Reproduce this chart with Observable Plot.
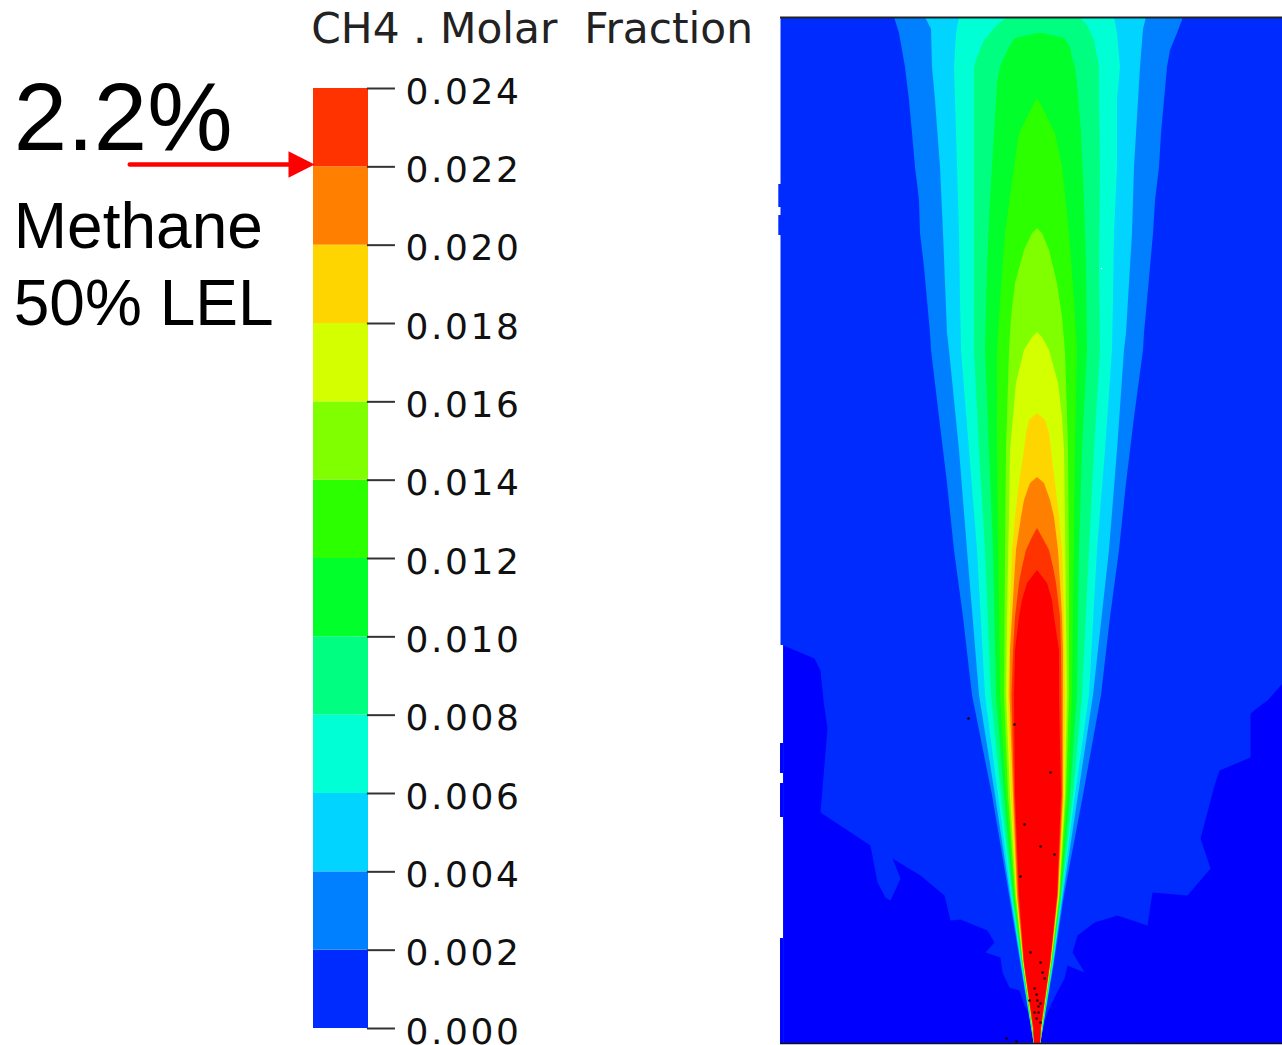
<!DOCTYPE html>
<html><head><meta charset="utf-8">
<script src="https://cdn.jsdelivr.net/npm/d3@7"></script>
<script src="https://cdn.jsdelivr.net/npm/@observablehq/plot@0.6"></script>
<style>
html,body{margin:0;padding:0;background:#fff}
#page{position:relative;width:1282px;height:1045px;overflow:hidden}
#page svg{position:absolute;top:0;overflow:visible;background:transparent}
g[aria-label="y-axis tick label"] text{letter-spacing:2.6px}
</style></head><body><div id="page"></div>
<script>
// Legend classes (molar fraction)
const tickValues = [0,0.002,0.004,0.006,0.008,0.010,0.012,0.014,0.016,0.018,0.020,0.022,0.024];
const classColors = ["#002bff","#0080ff","#00d4ff","#00ffd5","#00ff80","#00ff2b","#2bff00","#80ff00","#d4ff00","#ffd500","#ff7f00","#ff3300"];
const aboveColor = "#ff0000";
const belowColor = "#0000ff";
const title = "CH4 . Molar\u00a0\u00a0Fraction";

// Contour rows: [distance from source, left offset, right offset]
const c002 = [[1026,-143,146],[1010,-138,140],[993,-135,133],[976,-132,130],[943,-128,127],[910,-125,124],[876,-122,122],[843,-118,118],[810,-117,116],[776,-113,113],[743,-110,110],[710,-107,107],[693,-106,106],[626,-98,97],[560,-90,89],[493,-83,82],[426,-74,73],[348,-65,64],[248,-45,46],[148,-28,27],[81,-17,17],[15,-6,6],[0,-3.5,3.5]];
const c004 = [[1026,-112,109],[1014,-106,106],[976,-105,103],[943,-102,101],[876,-97,97],[810,-94,95],[710,-90,89],[693,-88,87],[593,-78,80],[493,-70,72],[348,-58,56],[248,-42,41],[148,-27,26],[81,-16.5,16.5],[15,-5.8,5.8],[0,-3.4,3.4]];
const c006 = [[1026,-78,77],[1010,-81,80],[976,-83,83],[943,-82,80],[876,-80,80],[810,-78,77],[743,-77,76],[693,-76,75],[593,-68,68],[493,-60,60],[348,-52,52],[248,-39,38],[148,-26,25],[81,-16,16],[15,-5.6,5.6],[0,-3.3,3.3]];
const c008 = [[1026,-30,42],[1018,-40,50],[1003,-53,57],[986,-60,60],[976,-63,62],[943,-63,62],[876,-63,63],[776,-63,62],[693,-63,63],[593,-58,57],[493,-52,52],[348,-46,45],[248,-36,36],[148,-25,24.5],[81,-15.5,15.5],[15,-5.4,5.4],[0,-3.2,3.2]];
const c010 = [[1010,0,5],[1005,-22,27],[996,-28,33],[986,-33,35],[976,-37,38],[960,-40,40],[910,-43,44],[843,-47,47],[776,-50,49],[693,-52,50],[593,-48,45],[493,-44,42],[348,-41,40],[248,-33,33],[148,-24,24],[81,-15,15],[15,-5.2,5.2],[0,-3.1,3.1]];
const c012 = [[945,0,0],[936,-5,5],[910,-18,18],[876,-23,25],[810,-32,32],[743,-37,37],[693,-40,40],[593,-40,38],[348,-37,35],[248,-31,31],[148,-23,23],[81,-14.5,14.5],[15,-5,5],[0,-3,3]];
const c014 = [[815,0,0],[810,-5,5],[793,-13,12],[760,-22,20],[726,-26,25],[693,-28,28],[593,-31,31],[493,-32,32],[348,-33,32],[248,-29,29],[148,-22,22.5],[81,-14.2,14.2],[15,-4.8,4.8],[0,-3,3]];
const c016 = [[711,0,0],[706,-5,5],[693,-13,12],[660,-21,21],[626,-24,25],[593,-27,27],[526,-28,28],[426,-30,29],[348,-31,30],[248,-27,28],[148,-21,22],[81,-14,14],[15,-4.6,4.6],[0,-3,3]];
const c018 = [[630,0,0],[623,-8,8],[610,-11,12],[593,-13,14],[560,-18,18],[526,-22,22],[493,-25,25],[426,-27,27],[348,-29,28],[248,-26,27],[148,-20.5,21.5],[81,-13.8,13.8],[15,-4.4,4.4],[0,-3,3]];
const c020 = [[566,0,0],[560,-7,7],[543,-13,13],[526,-16,17],[493,-21,21],[460,-23,23],[426,-25,25],[393,-27,26],[348,-27.5,26],[248,-24,26],[148,-20,21],[81,-13.5,13.5],[15,-4.2,4.2],[0,-3,3]];
const c022 = [[515,0,0],[506,-5,5],[493,-11,12],[476,-15,16],[460,-18,19],[426,-22,23],[393,-24,24],[348,-25.5,24.5],[248,-23,25],[148,-19,20.5],[81,-13.2,13.2],[15,-4,4],[0,-3,3]];
const c024 = [[473,0,0],[460,-10,10],[443,-15,15],[426,-18,17],[393,-22,22],[348,-23,22],[248,-22,24],[148,-18,20],[81,-13,13],[15,-3.5,3.5],[0,-3,3]];
const contours = [c002,c004,c006,c008,c010,c012,c014,c016,c018,c020,c022];

// Outlines of the sub-zero regions: [offset, distance]
const lowLeft = [[-254,398],[-223,385],[-217,373],[-214,343],[-210,315],[-212,291],[-217,231],[-167,198],[-160,161],[-152,146],[-147,143],[-137,165],[-145,185],[-117,168],[-93,148],[-87,123],[-77,124],[-50,113],[-43,101],[-52,91],[-37,86],[-35,71],[-28,56],[-18,53],[-13,38],[-7,28],[-3,15],[-2,1],[-254,0]];
const lowRight = [[245,360],[230,343],[223,338],[213,330],[213,286],[182,273],[177,258],[163,205],[173,175],[150,148],[115,151],[110,118],[80,128],[57,121],[40,108],[35,91],[47,71],[30,78],[27,65],[18,48],[10,31],[5,15],[2,1],[245,0]];

// Specks: [offset, distance]
const darkSpecks = [[-69,325],[-23,319],[13,271],[-13,219],[3,197],[17,189],[-17,167],[-7,91],[3,81],[5,71],[7,65],[-3,55],[-1,49],[-8,43],[0,43],[3,40],[1,37],[-3,31],[1,31],[-1,25],[3,21],[-31,5],[-21,2]];
const lightSpecks = [[64,775]];

// Frame edge pieces: [x1, x2, h1, h2]
const edgeUpper = [[-256.5,245,398,1026]];
const edgeLower = [[-254,245,0,398]];
const edgeNotchesHigh = [[-258.7,-256,836,859],[-258.7,-256,808,828]];
const edgeNotchesLow = [[-257,-254,270,300],[-257,-254,226,260],[-257,-254,0,105]];

const page = document.getElementById("page");

// ---------- colour bar ----------
const classes = classColors.map((c,i)=>({lo:tickValues[i],hi:tickValues[i+1],c}));
const arrowShaft = [{x:-3.34,y:0.02206},{x:-0.44,y:0.02206}];
const arrowHead = [{x:-0.455,y:0.02240},{x:0.02,y:0.02206},{x:-0.455,y:0.02172}];
const notes = [
  {x:-5.45,y:0.02242,t:"2.2%",s:96},
  {x:-5.45,y:0.01994,t:"Methane",s:64},
  {x:-5.45,y:0.01797,t:"50% LEL",s:64}
];
const legend = Plot.plot({
  width:780,height:1045,marginLeft:313,marginRight:412,marginTop:88,marginBottom:17,
  x:{domain:[0,1],axis:null},
  y:{domain:[0,0.024],axis:null},
  marks:[
    Plot.rectY(classes,{x1:0,x2:1,y1:"lo",y2:"hi",fill:d=>d.c}),
    Plot.ruleY(tickValues,{x1:0.98,x2:1.49,stroke:"#333",strokeWidth:2}),
    Plot.axisY({anchor:"right",ticks:tickValues,tickFormat:d3.format(".3f"),tickSize:0,tickPadding:37,
      label:null,fontSize:36,fontFamily:"DejaVu Sans",fill:"#111",dy:3.5}),
    Plot.text(notes,{x:"x",y:"y",text:"t",fontSize:"s",textAnchor:"start",lineAnchor:"bottom",fontFamily:"Liberation Sans",fill:"#000"}),
    Plot.text([title],{x:-0.04,y:0.02515,text:d=>d,fontSize:42.3,textAnchor:"start",lineAnchor:"bottom",fontFamily:"DejaVu Sans",fill:"#222"}),
    Plot.line(arrowShaft,{x:"x",y:"y",stroke:"#ff0000",strokeWidth:4.5}),
    Plot.line(arrowHead,{x:"x",y:"y",fill:"#ff0000",stroke:"none"})
  ]
});
legend.style.left="0px";
page.appendChild(legend);

// ---------- field ----------
const R = (rows,fill)=>Plot.rect(rows,{x1:d=>d[0],x2:d=>d[1],y1:d=>d[2],y2:d=>d[3],fill});
const band = (rows,fill)=>Plot.areaX(rows,{y:d=>d[0],x1:d=>d[1],x2:d=>d[2],fill,curve:"linear"});
const poly = (pts,fill)=>Plot.line(pts,{x:d=>d[0],y:d=>d[1],fill,stroke:"none"});
const field = Plot.plot({
  width:512,height:1045,marginLeft:10,marginRight:0,marginTop:17,marginBottom:2,
  x:{domain:[-257,245],axis:null},
  y:{domain:[0,1026],axis:null},
  marks:[
    R(edgeUpper,classColors[0]),
    R(edgeLower,classColors[0]),
    R(edgeNotchesHigh,classColors[0]),
    R(edgeNotchesLow,belowColor),
    poly(lowLeft,belowColor),
    poly(lowRight,belowColor),
    ...contours.map((rows,i)=>band(rows,classColors[i+1])),
    band(c024,aboveColor),
    Plot.dot(darkSpecks,{x:d=>d[0],y:d=>d[1],r:1.3,fill:"#200000",stroke:"none"}),
    Plot.dot(lightSpecks,{x:d=>d[0],y:d=>d[1],r:0.8,fill:"#fff",stroke:"none"}),
    Plot.ruleY([1026],{stroke:"#222",strokeWidth:2}),
    Plot.ruleY([0],{stroke:"#111",strokeWidth:1.5})
  ]
});
field.style.left="770px";
field.style.filter="blur(0.6px)";
page.appendChild(field);
</script></body></html>
